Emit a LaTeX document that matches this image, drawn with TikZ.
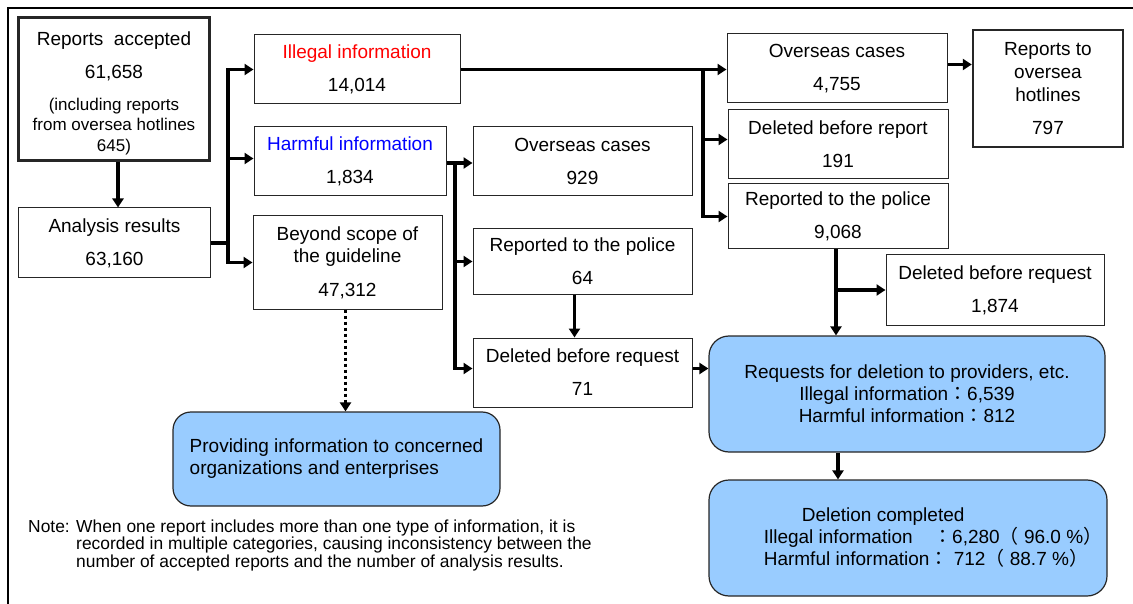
\documentclass[tikz,border=0pt]{standalone}
\usepackage{fontspec}
\setmainfont{Liberation Sans}
\newfontfamily\cjk{Noto Sans CJK JP}
\newcommand\wide[1]{{\cjk #1}}
\usetikzlibrary{arrows.meta,positioning,calc}
\definecolor{skyblue}{RGB}{153,204,255}

\begin{document}
\begin{tikzpicture}[x=1pt,y=-1pt,
    font=\fontsize{19}{22}\selectfont,
    box/.style={draw=black!85,line width=1pt,align=center,inner sep=0pt},
    thickbox/.style={box,line width=2.5pt},
    result/.style={box,rounded corners=20pt,fill=skyblue,line width=1.2pt},
    conn/.style={line width=3.6pt},
    arr/.style={conn,-{Triangle[length=9pt,width=11pt]}}]
  \useasboundingbox (0,0) rectangle (1133,604);
  \draw[line width=2pt] (8,604) -- (8,8) -- (1133,8);

  % left column
  \node[thickbox,minimum width=191pt,minimum height=143pt,font=\fontsize{17}{20.5}\selectfont] (accepted) at (114,89)
    {\rule{0pt}{22pt}{\fontsize{19}{20.5}\selectfont Reports\ \ accepted}\\[12.5pt]{\fontsize{19}{20.5}\selectfont 61,658}\\[11.5pt]
     (including reports\\from oversea hotlines\\645)};
  \node[box,minimum width=192pt,minimum height=70pt] (analysis) at (114.5,243) {Analysis results\\[11pt]63,160};

  % categories
  \node[box,minimum width=206pt,minimum height=69pt] (illegal) at (357,69.5) {\textcolor{red}{Illegal information}\\[11pt]14,014};
  \node[box,minimum width=192pt,minimum height=69pt] (harmful) at (350,161.5) {\textcolor{blue}{Harmful information}\\[11pt]1,834};
  \node[box,minimum width=189pt,minimum height=93pt] (beyond) at (347.5,262.5) {Beyond scope of\\the guideline\\[12pt]47,312};

  % harmful branch
  \node[box,minimum width=219pt,minimum height=69pt] (overseasH) at (582.5,161.5) {Overseas cases\\[11pt]929};
  \node[box,minimum width=219pt,minimum height=65pt] (policeH) at (582.5,261.5) {Reported to the police\\[11pt]64};
  \node[box,minimum width=219pt,minimum height=69pt] (deletedH) at (582.5,372.5) {Deleted before request\\[11pt]71};

  % illegal branch
  \node[box,minimum width=220pt,minimum height=69pt] (overseasI) at (837,68.5) {Overseas cases\\[11pt]4,755};
  \node[box,minimum width=220pt,minimum height=69pt] (reportI) at (838,144.5) {Deleted before report\\[11pt]191};
  \node[box,minimum width=220pt,minimum height=65pt] (policeI) at (838,216.5) {Reported to the police\\[11pt]9,068};
  \node[box,minimum width=218pt,minimum height=70pt] (deletedI) at (995,290) {Deleted before request\\[11pt]1,874};
  \node[thickbox,minimum width=150pt,minimum height=117pt] (hotlines) at (1048,88.5) {Reports to\\[1pt]oversea\\[1pt]hotlines\\[11pt]797};

  % results
  \node[result,minimum width=396pt,minimum height=116pt] (requests) at (907,394)
    {Requests for deletion to providers, etc.\\Illegal information\wide{：}6,539\\Harmful information\wide{：}812};
  \node[result,minimum width=398pt,minimum height=116pt,align=left] (completed) at (908,538)
    {\hspace*{88pt}Deletion completed\\
     \hspace*{50pt}Illegal information\hspace{20.5pt}\wide{：}6,280\wide{（} 96.0 \%\wide{）}\\
     \hspace*{50pt}Harmful information\wide{：} 712\wide{（} 88.7 \%\wide{）}};
  \node[result,rounded corners=18pt,minimum width=327pt,minimum height=94pt,align=left] (providing) at (336.5,459)
    {Providing information to concerned\\organizations and enterprises};

  \node[anchor=base west,inner sep=0pt,font=\fontsize{17.4}{17}\selectfont] (note) at (28,532)
    {Note: \begin{tabular}[t]{@{}l@{}}When one report includes more than one type of information, it is\\
     recorded in multiple categories, causing inconsistency between the\\
     number of accepted reports and the number of analysis results.\end{tabular}};

  % connectors
  \coordinate (trunkA) at (228,0);
  \coordinate (trunkB) at (455,0);
  \coordinate (trunkC) at (703,0);
  \draw[arr] ([xshift=4pt]accepted.south) -- ([xshift=4pt]accepted.south |- analysis.north);
  \draw[arr] (analysis) -- (trunkA |- analysis) |- (illegal);
  \draw[arr] (trunkA |- analysis) |- ([yshift=3pt]harmful.west);
  \draw[arr] (trunkA |- analysis) |- (beyond);
  \draw[arr] ([yshift=-1.5pt]harmful.east) -- ([yshift=-1.5pt]overseasH.west);
  \draw[arr] (trunkB |- harmful) |- (policeH);
  \draw[arr] (trunkB |- harmful) |- ([yshift=4pt]deletedH.west);
  \draw[arr] ([xshift=-8pt]policeH.south) -- ([xshift=-8pt]policeH.south |- deletedH.north);
  \draw[arr] (illegal.east) -- (illegal.east -| overseasI.west);
  \draw[arr] (trunkC |- illegal) |- ([yshift=5pt]reportI.west);
  \draw[arr] (trunkC |- illegal) |- (policeI);
  \draw[arr] ([yshift=4pt]overseasI.east) -- ([yshift=4pt]overseasI.east -| hotlines.west);
  \draw[arr] ([xshift=-2pt]policeI.south) -- ([xshift=-2pt]policeI.south |- requests.north);
  \draw[arr] ([xshift=-2pt]policeI.south |- deletedI.west) -- (deletedI.west);
  \draw[arr] ([yshift=4pt]deletedH.east) -- ([yshift=4pt]deletedH.east -| requests.west);
  \draw[arr] (requests.south -| policeI.south) -- (completed.north -| policeI.south);
  \draw[arr,dash pattern=on 3pt off 3pt] ([xshift=-2pt]beyond.south) -- ([xshift=-2pt]beyond.south |- providing.north);
\end{tikzpicture}
\end{document}
